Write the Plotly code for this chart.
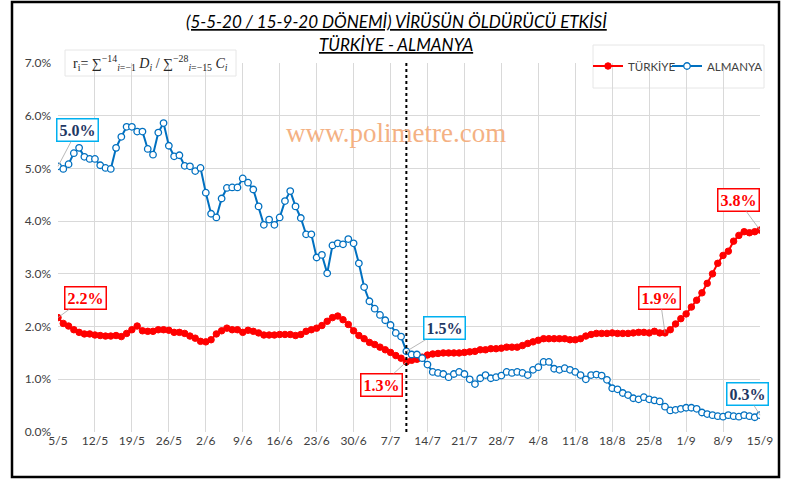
import pandas as pd
import plotly.graph_objects as go

START_DATE = "2020-05-05"

TURKIYE = [
    2.17, 2.06, 2.01, 1.94, 1.89, 1.86, 1.86, 1.84, 1.83, 1.82,
    1.82, 1.83, 1.81, 1.87, 1.94, 2.01, 1.92, 1.91, 1.91, 1.94,
    1.94, 1.93, 1.89, 1.89, 1.87, 1.82, 1.78, 1.72, 1.71, 1.75,
    1.86, 1.92, 1.97, 1.94, 1.94, 1.89, 1.93, 1.91, 1.88, 1.84,
    1.84, 1.84, 1.85, 1.85, 1.85, 1.83, 1.85, 1.91, 1.94, 1.97,
    2.02, 2.10, 2.17, 2.20, 2.13, 2.04, 1.92, 1.83, 1.77, 1.70,
    1.66, 1.61, 1.56, 1.51, 1.45, 1.40, 1.33, 1.36, 1.38, 1.42,
    1.46, 1.48, 1.49, 1.50, 1.50, 1.50, 1.50, 1.51, 1.52, 1.53,
    1.56, 1.56, 1.58, 1.58, 1.59, 1.61, 1.61, 1.61, 1.64, 1.68,
    1.71, 1.74, 1.77, 1.77, 1.77, 1.77, 1.77, 1.75, 1.75, 1.77,
    1.82, 1.85, 1.87, 1.87, 1.87, 1.88, 1.87, 1.87, 1.87, 1.88,
    1.89, 1.89, 1.88, 1.91, 1.88, 1.88, 1.94, 2.05, 2.15, 2.24,
    2.37, 2.50, 2.64, 2.82, 3.00, 3.20, 3.35, 3.43, 3.62, 3.73,
    3.80, 3.78, 3.80, 3.83,
]

ALMANYA = [
    5.04, 4.99, 5.08, 5.29, 5.39, 5.22, 5.18, 5.18, 5.06, 5.01,
    4.99, 5.39, 5.60, 5.79, 5.79, 5.70, 5.70, 5.37, 5.26, 5.68,
    5.86, 5.43, 5.23, 5.25, 5.05, 5.04, 4.95, 5.01, 4.54, 4.14,
    4.07, 4.43, 4.63, 4.64, 4.64, 4.81, 4.73, 4.60, 4.28, 3.93,
    4.03, 3.93, 4.07, 4.38, 4.57, 4.28, 4.06, 3.75, 3.75, 3.31,
    3.36, 3.01, 3.54, 3.58, 3.56, 3.66, 3.58, 3.20, 2.75, 2.48,
    2.34, 2.22, 2.12, 2.03, 1.88, 1.81, 1.53, 1.47, 1.47, 1.40,
    1.28, 1.14, 1.12, 1.10, 1.04, 1.10, 1.14, 1.10, 1.00, 0.91,
    1.02, 1.08, 1.02, 1.04, 1.07, 1.14, 1.12, 1.14, 1.12, 1.08,
    1.18, 1.23, 1.33, 1.33, 1.20, 1.18, 1.21, 1.18, 1.14, 1.08,
    1.00, 1.08, 1.09, 1.07, 0.99, 0.83, 0.81, 0.74, 0.70, 0.64,
    0.62, 0.66, 0.62, 0.60, 0.58, 0.48, 0.41, 0.42, 0.44, 0.46,
    0.46, 0.44, 0.37, 0.34, 0.32, 0.30, 0.29, 0.32, 0.30, 0.29,
    0.32, 0.30, 0.28, 0.32,
]

TICK_LABELS = ["5/5", "12/5", "19/5", "26/5", "2/6", "9/6", "16/6", "23/6",
               "30/6", "7/7", "14/7", "21/7", "28/7", "4/8", "11/8", "18/8",
               "25/8", "1/9", "8/9", "15/9"]

# (day index, series, text, label offset x, label offset y)
CALLOUTS = [
    (0, "ALMANYA", "5.0%", 19, -36),
    (0, "TURKIYE", "2.2%", 27, -20),
    (66, "TURKIYE", "1.3%", -25, 23),
    (66, "ALMANYA", "1.5%", 38, -23),
    (115, "TURKIYE", "1.9%", -5, -35),
    (133, "TURKIYE", "3.8%", -22, -30),
    (133, "ALMANYA", "0.3%", -13, -21),
]
SPLIT_DAY = 66

dates = pd.date_range(START_DATE, periods=len(TURKIYE), freq="D")
series = {"TURKIYE": TURKIYE, "ALMANYA": ALMANYA}

RED = "#FF0000"
BLUE = "#0070C0"
NAVY = "#1F3864"
FONT = "Lato, Open Sans, sans-serif"
SERIF = "Liberation Serif, DejaVu Serif, serif"

# plot-area pixel geometry
L, R, T, B = 58, 760, 63, 432
PW, PH = R - L, B - T


def px(x):
    return (x - L) / PW


def py(y):
    return (B - y) / PH


fig = go.Figure()
fig.add_trace(go.Scatter(
    x=dates, y=TURKIYE, name="TÜRKİYE", mode="lines+markers",
    line=dict(color=RED, width=2), legend="legend",
    marker=dict(symbol="circle", size=6.5, color=RED, line=dict(color=RED, width=1)),
))
fig.add_trace(go.Scatter(
    x=dates, y=ALMANYA, name="ALMANYA", mode="lines+markers",
    line=dict(color=BLUE, width=2), legend="legend2",
    marker=dict(symbol="circle", size=6.5, color="white", line=dict(color=BLUE, width=1.3)),
))

annotations = []
for day, key, txt, ax, ay in CALLOUTS:
    is_red = key == "TURKIYE"
    annotations.append(dict(
        x=dates[day], y=series[key][day], xref="x", yref="y",
        text="<b>%s</b>" % txt, showarrow=True, arrowhead=0,
        arrowwidth=0.8, arrowcolor="#A6A6A6", ax=ax, ay=ay, standoff=0,
        font=dict(family=SERIF, size=16, color=RED if is_red else NAVY),
        bordercolor=RED if is_red else "#00B0F0", borderwidth=1.5,
        borderpad=2, bgcolor="white",
    ))

# titles
annotations.append(dict(
    x=px(396), y=py(22), xref="paper", yref="paper", showarrow=False,
    xanchor="center", yanchor="middle",
    text="(5-5-20 / 15-9-20 DÖNEMİ) VİRÜSÜN ÖLDÜRÜCÜ ETKİSİ",
    font=dict(family=FONT, size=17, color="#000000", style="italic", lineposition="under"),
))
annotations.append(dict(
    x=px(396), y=py(45), xref="paper", yref="paper", showarrow=False,
    xanchor="center", yanchor="middle",
    text="TÜRKİYE - ALMANYA",
    font=dict(family=FONT, size=17, color="#000000", style="italic", lineposition="under"),
))
# watermark
annotations.append(dict(
    x=px(396), y=py(133), xref="paper", yref="paper", showarrow=False,
    xanchor="center", yanchor="middle",
    text="www.polimetre.com",
    font=dict(family=SERIF, size=27, color="#F4B183"),
))
# formula
annotations.append(dict(
    x=px(150), y=py(63), xref="paper", yref="paper", showarrow=False,
    xanchor="center", yanchor="middle",
    text="r<sub>i</sub>= ∑<sup>−14</sup><sub><i>i</i>=−1</sub> <i>D<sub>i</sub></i> / "
         "∑<sup>−28</sup><sub><i>i</i>=−15</sub> <i>C<sub>i</sub></i>",
    font=dict(family=SERIF, size=14, color="#262626"),
))

shapes = [
    dict(type="line", xref="x", yref="y", x0=dates[SPLIT_DAY], x1=dates[SPLIT_DAY],
         y0=0, y1=7, line=dict(color="black", width=2, dash="dot")),
    # formula box
    dict(type="rect", xref="paper", yref="paper",
         x0=px(65), x1=px(236), y0=py(76), y1=py(50),
         line=dict(color="#E6E6E6", width=1), fillcolor="white", layer="below"),
    # legend box
    dict(type="rect", xref="paper", yref="paper",
         x0=px(593), x1=px(764), y0=py(88), y1=py(45),
         line=dict(color="#E6E6E6", width=1), fillcolor="white", layer="below"),
    # outer chart border
    dict(type="rect", xref="paper", yref="paper",
         x0=px(12), x1=px(779), y0=py(477), y1=py(2),
         line=dict(color="black", width=2.5)),
]

legend_common = dict(orientation="h", xanchor="left", y=py(66), yanchor="middle",
                     bgcolor="rgba(0,0,0,0)", borderwidth=0, itemwidth=30,
                     font=dict(family=FONT, size=11.5, color="#404040"))

fig.update_layout(
    width=786, height=481,
    margin=dict(l=L, r=786 - R, t=T, b=481 - B, autoexpand=False),
    paper_bgcolor="white", plot_bgcolor="white",
    font=dict(family=FONT, size=12, color="#404040"),
    showlegend=True,
    legend=dict(x=px(588), **legend_common),
    legend2=dict(x=px(667), **legend_common),
    annotations=annotations,
    shapes=shapes,
    xaxis=dict(
        range=[dates[0], dates[-1]],
        tickvals=list(dates[::7]), ticktext=TICK_LABELS,
        showgrid=True, gridcolor="#D9D9D9", gridwidth=1,
        zeroline=False, showline=False, ticks="",
        tickfont=dict(family=FONT, size=12, color="#404040"),
    ),
    yaxis=dict(
        range=[0, 7], dtick=1, tickformat=".1f", ticksuffix="%",
        showgrid=True, gridcolor="#D9D9D9", gridwidth=1,
        zeroline=False, showline=False, ticks="",
        ticklabelstandoff=6,
        tickfont=dict(family=FONT, size=12, color="#404040"),
    ),
)

fig.write_html("out.html", config={"displayModeBar": False},
               post_script="document.body.style.margin='0px';")
